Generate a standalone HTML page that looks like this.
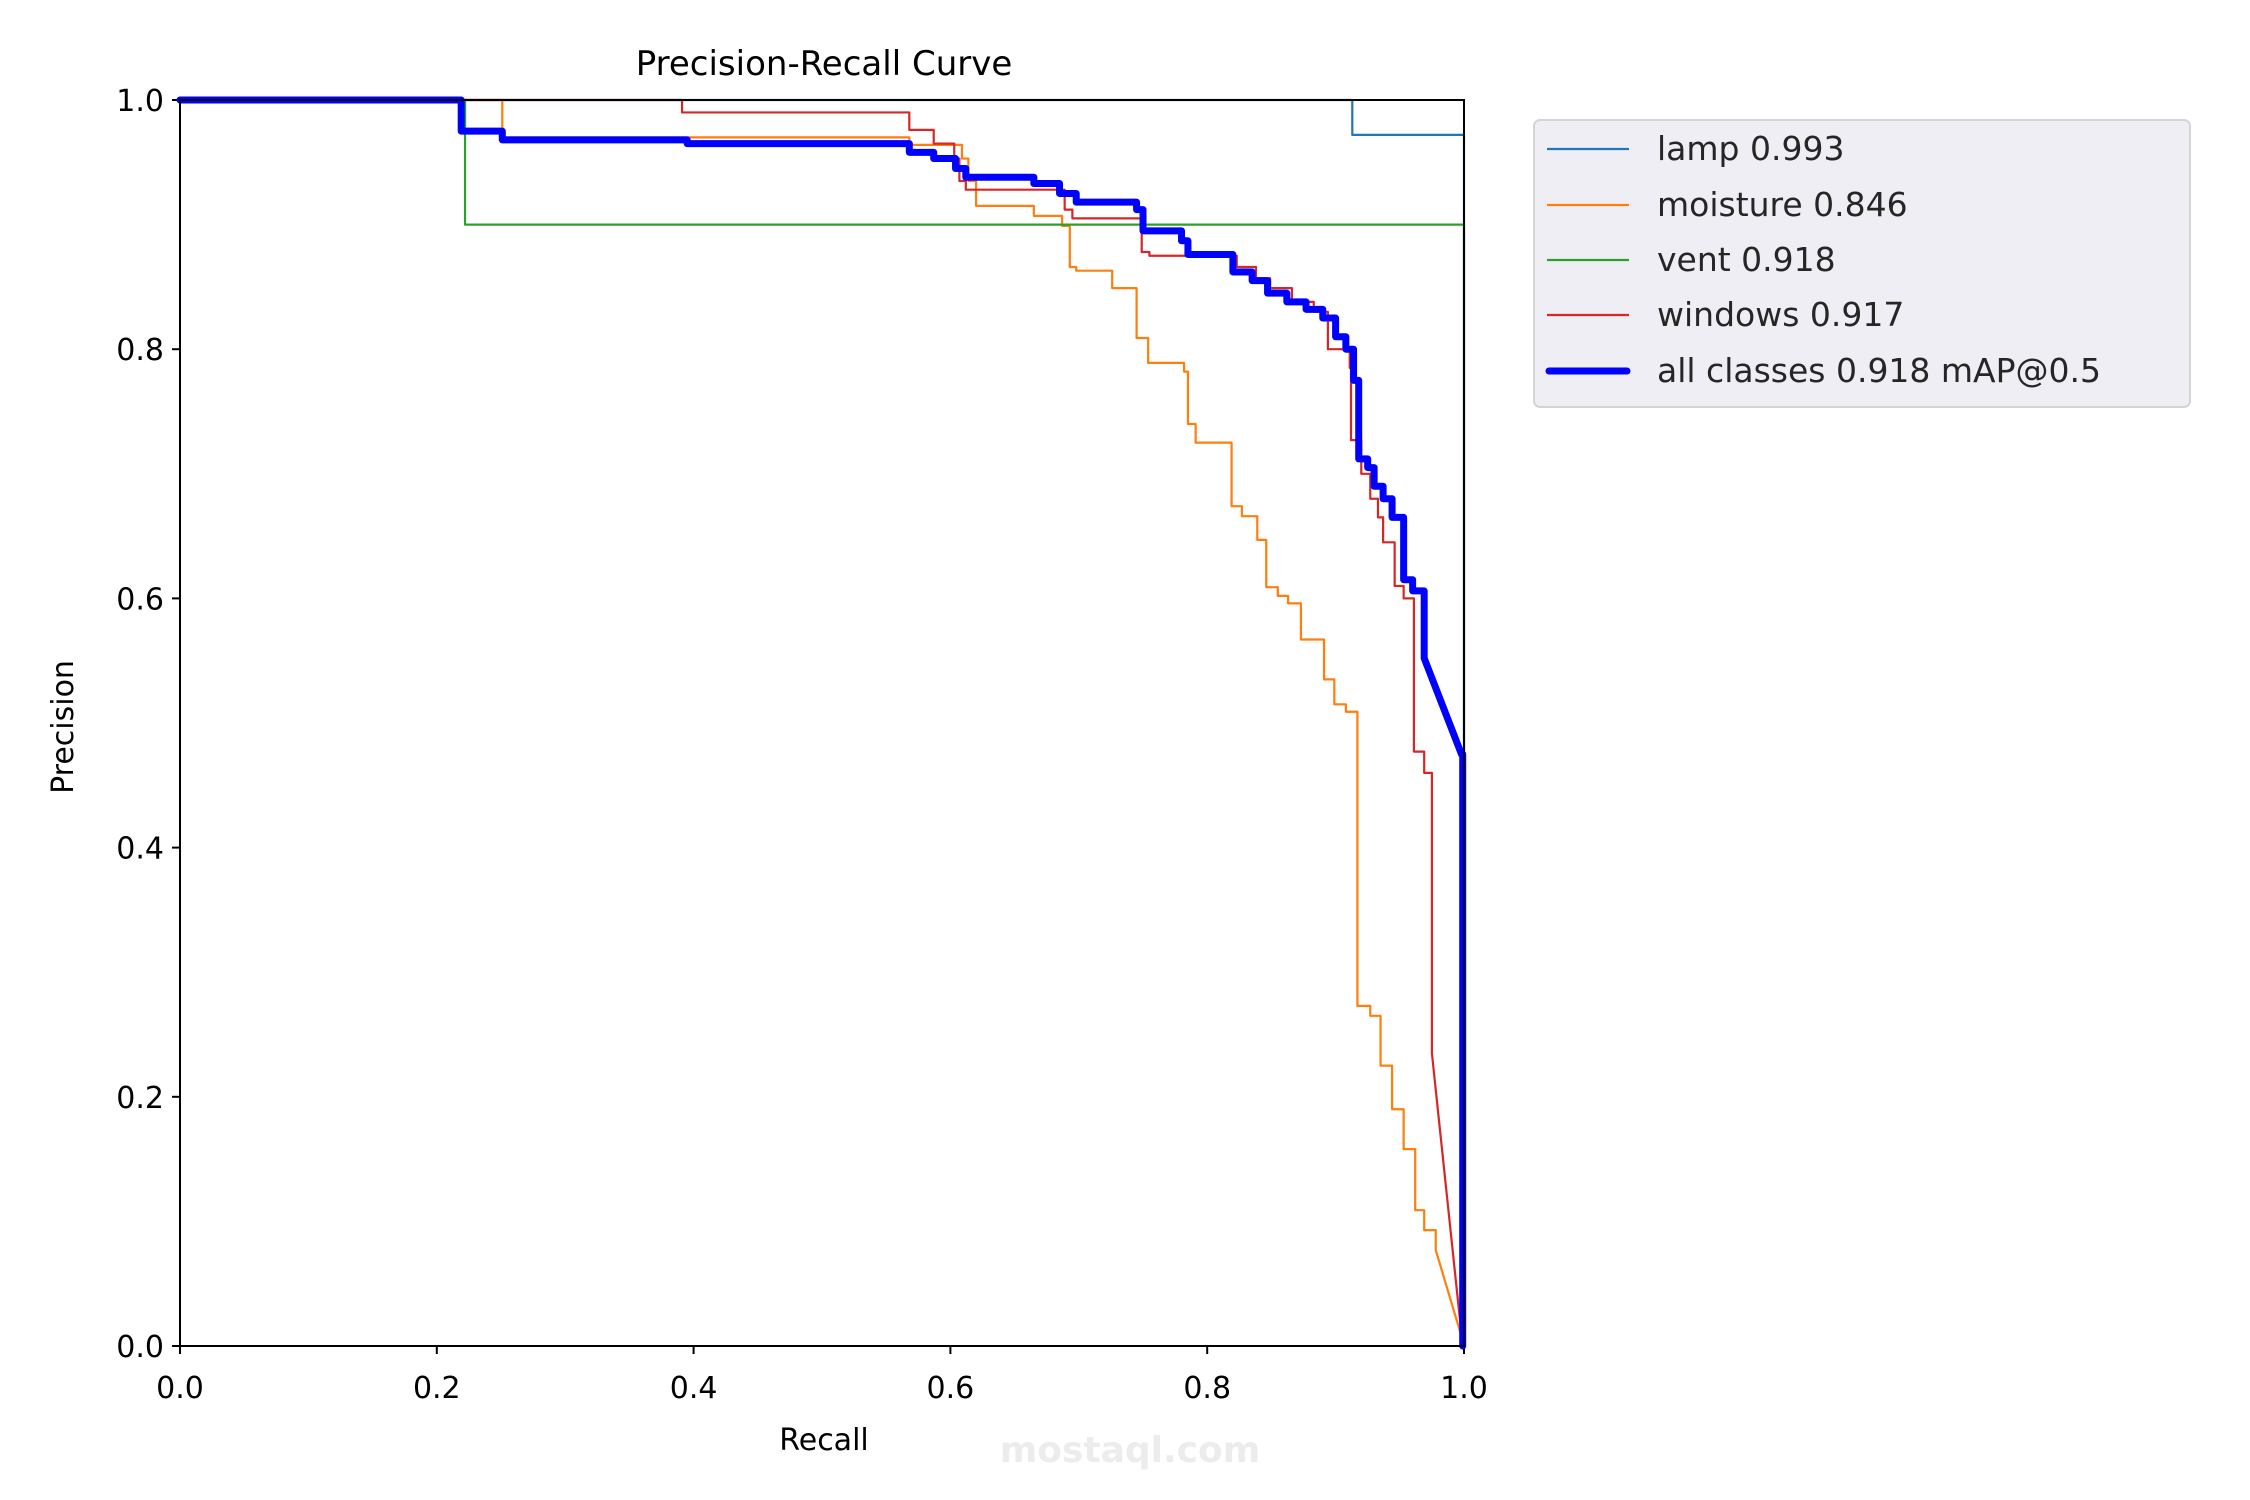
<!DOCTYPE html>
<html><head><meta charset="utf-8"><style>
body{margin:0;background:#fff;}
svg{display:block;font-family:"DejaVu Sans","Liberation Sans",sans-serif;}
</style></head><body>
<svg id="chart" width="2250" height="1500" viewBox="0 0 2250 1500">
<text x="824" y="75" font-size="34" text-anchor="middle">Precision-Recall Curve</text>
<text x="824" y="1450" font-size="30" text-anchor="middle">Recall</text>
<text x="0" y="0" font-size="30" text-anchor="middle" transform="translate(73,727) rotate(-90)">Precision</text>
<text x="1130" y="1462" font-size="36" font-weight="bold" fill="#ececec" text-anchor="middle">mostaql.com</text>
<g id="ticks"></g>
<g id="series" clip-path="url(#clip)"></g>
<defs><clipPath id="clip"><rect x="170" y="90" width="1306" height="1266"/></clipPath></defs>
<rect x="180" y="100" width="1284" height="1246" fill="none" stroke="#000" stroke-width="2"/>
<g>
<rect x="1534" y="120" width="656" height="287" rx="6" fill="#eeeef4" stroke="#d4d4d4" stroke-width="2"/>
<g><line x1="1547" y1="149" x2="1629" y2="149" stroke="#1f77b4" stroke-width="2.2"/><text x="1657" y="160" font-size="33" fill="#262626">lamp 0.993</text></g>
<g><line x1="1547" y1="205" x2="1629" y2="205" stroke="#ff7f0e" stroke-width="2.2"/><text x="1657" y="216" font-size="33" fill="#262626">moisture 0.846</text></g>
<g><line x1="1547" y1="260" x2="1629" y2="260" stroke="#2ca02c" stroke-width="2.2"/><text x="1657" y="271" font-size="33" fill="#262626">vent 0.918</text></g>
<g><line x1="1547" y1="315" x2="1629" y2="315" stroke="#d62728" stroke-width="2.2"/><text x="1657" y="326" font-size="33" fill="#262626">windows 0.917</text></g>
<g><line x1="1549" y1="371" x2="1627" y2="371" stroke="#0000ff" stroke-width="7" stroke-linecap="round"/><text x="1657" y="382" font-size="33" fill="#262626">all classes 0.918 mAP@0.5</text></g>
</g>
</svg>
<script>
const xTicks=[0,0.2,0.4,0.6,0.8,1.0];
const yTicks=[0,0.2,0.4,0.6,0.8,1.0];
const tickLabels=["0.0","0.2","0.4","0.6","0.8","1.0"];
const lampR=[0,0.913];
const lampP=[1.0,0.972];
const lampTailR=[1.0,1.0];
const lampTailP=[0.972,0.0];
const moistureR=[0,0.251,0.568,0.609,0.614,0.620,0.665,0.687,0.693,0.698,0.726,0.745,0.754,0.782,0.785,0.791,0.819,0.827,0.839,0.846,0.855,0.863,0.873,0.891,0.899,0.908,0.917,0.927,0.935,0.944,0.953,0.962,0.969,0.978];
const moistureP=[1.0,0.970,0.964,0.953,0.935,0.915,0.907,0.899,0.866,0.863,0.849,0.809,0.789,0.782,0.740,0.725,0.674,0.666,0.647,0.609,0.602,0.596,0.567,0.535,0.515,0.509,0.273,0.265,0.225,0.190,0.158,0.109,0.093,0.077];
const moistureTailR=[0.998,1.0];
const moistureTailP=[0.008,0.0];
const ventR=[0,0.222];
const ventP=[1.0,0.90];
const ventTailR=[1.0,1.0];
const ventTailP=[0.90,0.0];
const windowsR=[0,0.391,0.568,0.587,0.603,0.607,0.612,0.689,0.695,0.749,0.755,0.823,0.838,0.849,0.866,0.883,0.894,0.911,0.912,0.920,0.927,0.933,0.937,0.946,0.953,0.961,0.969,0.975];
const windowsP=[1.0,0.990,0.976,0.965,0.953,0.935,0.928,0.912,0.905,0.878,0.875,0.866,0.857,0.849,0.838,0.830,0.800,0.785,0.727,0.700,0.680,0.665,0.645,0.610,0.600,0.477,0.460,0.235];
const windowsTailR=[0.999];
const windowsTailP=[0.0];
const allR=[0,0.219,0.251,0.395,0.568,0.587,0.604,0.612,0.665,0.685,0.698,0.745,0.750,0.780,0.785,0.820,0.835,0.847,0.862,0.877,0.890,0.900,0.908,0.914,0.918,0.925,0.930,0.937,0.944,0.953,0.960,0.969];
const allP=[1.0,0.975,0.968,0.965,0.958,0.953,0.945,0.938,0.933,0.925,0.918,0.912,0.895,0.887,0.876,0.862,0.855,0.845,0.838,0.832,0.825,0.810,0.800,0.775,0.712,0.705,0.690,0.680,0.665,0.615,0.606,0.552];
const allTailR=[0.998,0.999,0.999];
const allTailP=[0.475,0.475,0.0];

const L=180,R=1464,T=100,B=1346;
function sx(v){return L+v*(R-L);}
function sy(v){return B-v*(B-T);}
const NS="http://www.w3.org/2000/svg";
const tg=document.getElementById('ticks');
xTicks.forEach((t,i)=>{
  const ln=document.createElementNS(NS,'line');
  ln.setAttribute('x1',sx(t));ln.setAttribute('x2',sx(t));ln.setAttribute('y1',B);ln.setAttribute('y2',B+8);
  ln.setAttribute('stroke','#000');ln.setAttribute('stroke-width','2');
  
  
  tg.appendChild(ln);
  const tx=document.createElementNS(NS,'text');
  tx.setAttribute('x',sx(t));tx.setAttribute('y',B+52);tx.setAttribute('font-size','30');tx.setAttribute('text-anchor','middle');
  tx.textContent=tickLabels[i];
  
  
  tg.appendChild(tx);
});
yTicks.forEach((t,i)=>{
  const ln=document.createElementNS(NS,'line');
  ln.setAttribute('x1',L-8);ln.setAttribute('x2',L);ln.setAttribute('y1',sy(t));ln.setAttribute('y2',sy(t));
  ln.setAttribute('stroke','#000');ln.setAttribute('stroke-width','2');
  
  
  tg.appendChild(ln);
  const tx=document.createElementNS(NS,'text');
  tx.setAttribute('x',L-16);tx.setAttribute('y',sy(t)+11);tx.setAttribute('font-size','30');tx.setAttribute('text-anchor','end');
  tx.textContent=tickLabels[i];
  
  
  tg.appendChild(tx);
});
const sg=document.getElementById('series');
function draw(r,p,tr,tp,color,w,name){
  let d='M'+sx(r[0])+','+sy(p[0]);
  for(let i=1;i<r.length;i++){d+=' H'+sx(r[i])+' V'+sy(p[i]);}
  for(let i=0;i<tr.length;i++){d+=' L'+sx(tr[i])+','+sy(tp[i]);}
  const pa=document.createElementNS(NS,'path');
  pa.setAttribute('d',d);pa.setAttribute('fill','none');pa.setAttribute('stroke',color);
  pa.setAttribute('stroke-width',w);pa.setAttribute('stroke-linejoin','round');pa.setAttribute('stroke-linecap','round');
  
  
  sg.appendChild(pa);
}
draw(lampR,lampP,lampTailR,lampTailP,'#1f77b4',2.2,'lamp-curve');
draw(moistureR,moistureP,moistureTailR,moistureTailP,'#ff7f0e',2.2,'moisture-curve');
draw(ventR,ventP,ventTailR,ventTailP,'#2ca02c',2.2,'vent-curve');
draw(windowsR,windowsP,windowsTailR,windowsTailP,'#d62728',2.2,'windows-curve');
draw(allR,allP,allTailR,allTailP,'#0000ff',7,'all-classes-curve');
</script>
</body></html>
